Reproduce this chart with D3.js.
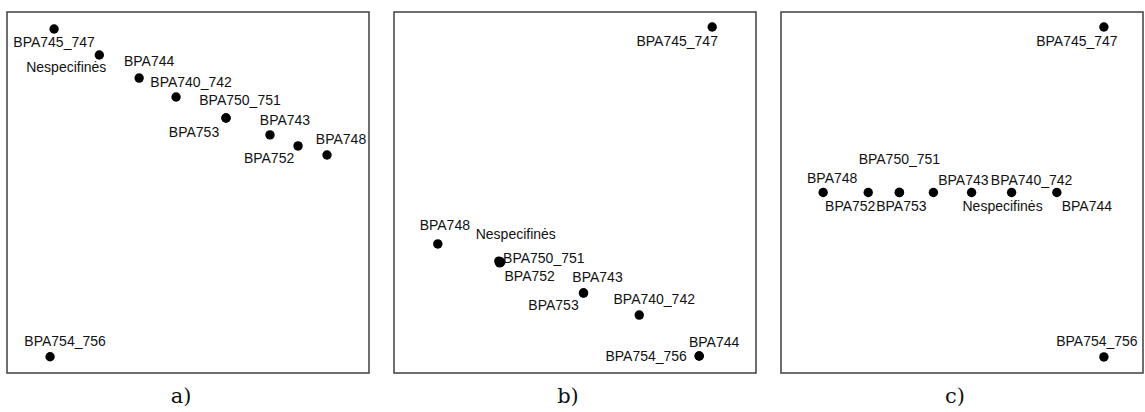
<!DOCTYPE html>
<html>
<head>
<meta charset="utf-8">
<script src="https://cdn.jsdelivr.net/npm/d3@7"></script>
<style>
  body { margin: 0; background: #fff; }
  svg { display: block; }
  .lbl { font-family: "Liberation Sans", Arial, sans-serif; font-size: 14px; fill: #111; }
  .cap { font-family: "DejaVu Serif", "Liberation Serif", serif; font-size: 21px; fill: #111; }
</style>
</head>
<body>
<div id="chart"></div>
<script>
// object categories (same order in every panel)
const categories = ["BPA740_742", "BPA743", "BPA744", "BPA745_747", "BPA748",
                    "BPA750_751", "BPA752", "BPA753", "BPA754_756", "Nespecifinės"];

// dimension 1 / dimension 2 coordinates
const aX = [-0.066, 0.453, -0.270, -0.740, 0.768, 0.210, 0.608, 0.210, -0.762, -0.490];
const aY = [ 0.529, 0.319,  0.634,  0.906, 0.208, 0.413, 0.258, 0.413, -0.910,  0.762];

const bX = [ 0.355,  0.047,  0.686, 0.758, -0.758, -0.410, -0.416,  0.047,  0.686, -0.421];
const bY = [-0.679, -0.557, -0.906, 0.917, -0.285, -0.385, -0.390, -0.557, -0.906, -0.380];

const cX = [0.274, -0.158, 0.524, 0.784, -0.767, -0.346, -0.518, -0.346,  0.784, 0.053];
const cY = [0.000,  0.000, 0.000, 0.917,  0.000,  0.000,  0.000,  0.000, -0.911, 0.000];

const captions = ["a)", "b)", "c)"];

// label placement (dx, dy from the dot), same order as categories
const labelOffsets = [
  [[15, -10], [15, -10], [10, -12], [0, 18], [14, -11], [14, -13], [-29, 17], [-32, 19], [15, -11], [-33, 17]],
  [[15, -11], [14, -11], [15, -9], [-35, 19], [7, -14], [43, 1], [30, 18], [-30, 17], [-53, 5], [17, -22]],
  [[20, -8], [30, -8], [30, 18], [-27, 19], [9, -10], [0, -29], [-18, 18], [2, 18], [-7, -11], [31, 18]]
];

const W = 1145, H = 412;
const panelLefts = [7, 394, 781];
const panelW = 362;
const frameTop = 12, frameBottom = 373;

const svg = d3.select("#chart").append("svg")
  .attr("width", W)
  .attr("height", H);

const panels = [[aX, aY], [bX, bY], [cX, cY]];

panels.forEach((p, i) => {
  const left = panelLefts[i];
  const x = d3.scaleLinear().domain([-1, 1]).range([left, left + panelW]);
  const y = d3.scaleLinear().domain([-1, 1]).range([frameBottom, frameTop]);

  const g = svg.append("g");

  // frame
  g.append("rect")
    .attr("x", left)
    .attr("y", frameTop)
    .attr("width", panelW)
    .attr("height", frameBottom - frameTop)
    .attr("fill", "none")
    .attr("stroke", "#4a4a4a")
    .attr("stroke-width", 1.6);

  const pts = categories.map((c, k) => ({ name: c, x: p[0][k], y: p[1][k], off: labelOffsets[i][k] }));

  g.selectAll("circle")
    .data(pts)
    .enter()
    .append("circle")
    .attr("cx", d => x(d.x))
    .attr("cy", d => y(d.y))
    .attr("r", 4.7)
    .attr("fill", "#000");

  g.selectAll("text.lbl")
    .data(pts)
    .enter()
    .append("text")
    .attr("class", "lbl")
    .attr("x", d => x(d.x) + d.off[0])
    .attr("y", d => y(d.y) + d.off[1])
    .attr("text-anchor", "middle")
    .text(d => d.name);

  // caption under the panel
  g.append("text")
    .attr("class", "cap")
    .attr("x", left + panelW / 2 - 7)
    .attr("y", 403)
    .attr("text-anchor", "middle")
    .text(captions[i]);
});
</script>
</body>
</html>
